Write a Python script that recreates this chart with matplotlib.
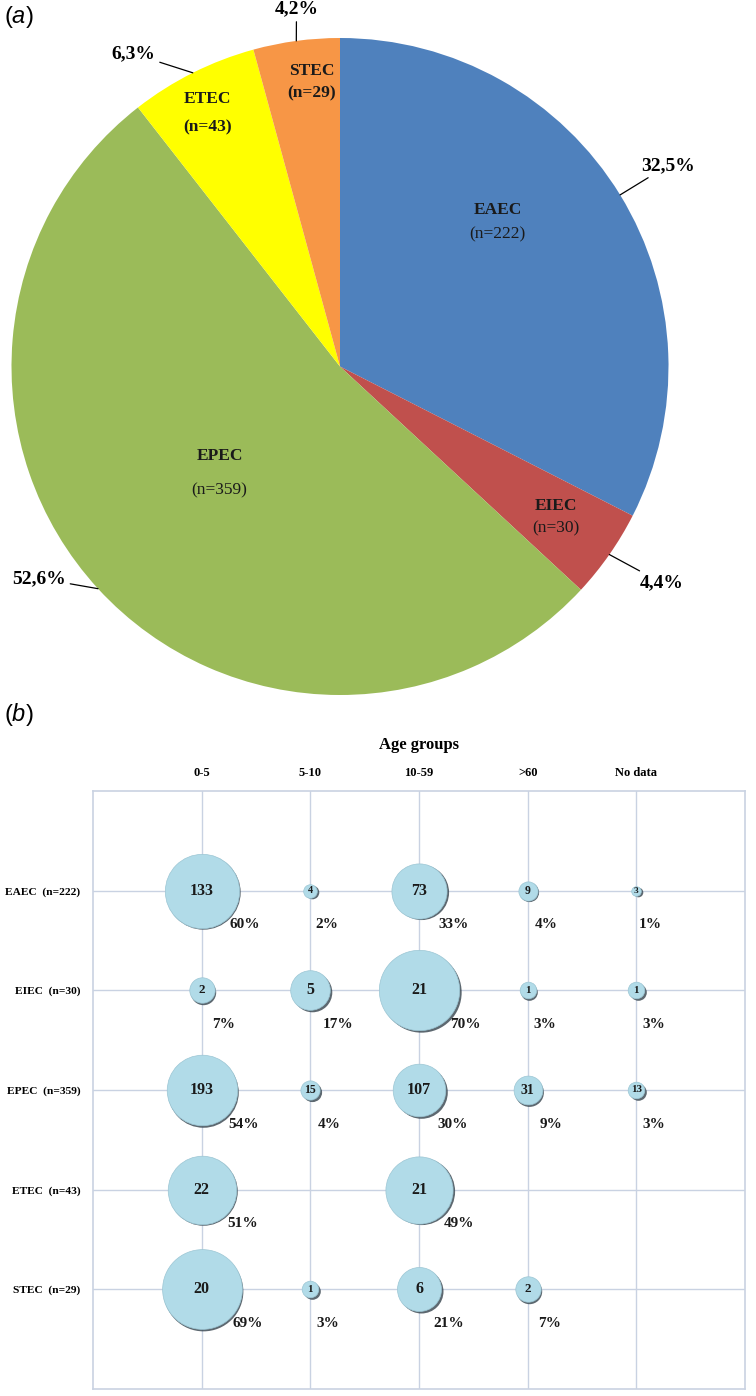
import numpy as np
import matplotlib
matplotlib.use("Agg")
import matplotlib.pyplot as plt
from matplotlib.transforms import offset_copy

plt.rcParams['font.family'] = ['Liberation Serif', 'DejaVu Serif']
plt.rcParams['mathtext.fontset'] = 'custom'
plt.rcParams['mathtext.it'] = 'Liberation Sans:italic'
plt.rcParams['mathtext.rm'] = 'Liberation Sans'

# (a) pathotype counts
pathotypes = ['EAEC', 'EIEC', 'EPEC', 'ETEC', 'STEC']
pathotype_n = [222, 30, 359, 43, 29]
pie_colors = ['#4f81bd', '#c0504d', '#9bbb59', '#ffff00', '#f79646']

# (b) age groups
age_groups = ['0-5', '5-10', '10-59', '>60', 'No data']
row_labels = ['EAEC  (n=222)', 'EIEC  (n=30)', 'EPEC  (n=359)', 'ETEC  (n=43)', 'STEC  (n=29)']
age_counts = [
    [133, 4, 73, 9, 3],
    [2, 5, 21, 1, 1],
    [193, 15, 107, 31, 13],
    [22, None, 21, None, None],
    [20, 1, 6, 2, None],
]
age_pct = [
    [60, 2, 33, 4, 1],
    [7, 17, 70, 3, 3],
    [54, 4, 30, 9, 3],
    [51, None, 49, None, None],
    [69, 3, 21, 7, None],
]

W, H = 756, 1396
fig = plt.figure(figsize=(W / 100, H / 100), dpi=100)

# ---------------- pie ----------------
R = 328.5           # pie radius in px
cx, cy = 340, 366.5  # pie centre in px (from top)
ax = fig.add_axes([0, 1 - 700 / H, 1, 700 / H])
wedges, _ = ax.pie(pathotype_n, colors=pie_colors, startangle=90, counterclock=False,
                   radius=1, wedgeprops=dict(linewidth=0))
ax.set_xlim(-cx / R, (W - cx) / R)
ax.set_ylim(-(700 - cy) / R, cy / R)
ax.set_aspect('auto')
ax.axis('off')

# label placement (radius fraction, angle shift in deg)
name_r = [0.65, 0.80, 0.49, 0.87, 0.87]
name_da = [11, 0, -1, 1, -2]
name_gap = [12, 11, 17, 14, 11]
n_bold = [False, False, False, True, True]
pct_r = [1.17, 1.18, 1.12, 1.14, 1.096]
pct_da = [0, 1, -7.4, 6.8, -0.7]

total = sum(pathotype_n)
for i, w in enumerate(wedges):
    mid = np.deg2rad((w.theta1 + w.theta2) / 2)
    a = mid + np.deg2rad(name_da[i])
    x, y = name_r[i] * np.cos(a), name_r[i] * np.sin(a)
    ax.annotate(pathotypes[i], (x, y), xytext=(0, name_gap[i] * 0.72), textcoords='offset points',
                ha='center', va='center', fontsize=12.5, fontweight='bold', color='#1a1a1a')
    ax.annotate('(n=%d)' % pathotype_n[i], (x, y), xytext=(0, -name_gap[i] * 0.72),
                textcoords='offset points', ha='center', va='center', fontsize=12.5,
                fontweight='bold' if n_bold[i] else 'normal', color='#1a1a1a')
    # outside percentage with leader line
    p = ('%.1f%%' % (100 * pathotype_n[i] / total)).replace('.', ',')
    b = mid + np.deg2rad(pct_da[i])
    ax.annotate(p, xy=(np.cos(mid), np.sin(mid)),
                xytext=(pct_r[i] * np.cos(b), pct_r[i] * np.sin(b)),
                ha='center', va='center', fontsize=14, fontweight='bold',
                arrowprops=dict(arrowstyle='-', color='black', lw=0.9, shrinkA=1, shrinkB=0))

fig.text(4 / W, 1 - 17 / H, r'($\mathit{a}$)', fontsize=17, va='center', ha='left',
         family='Liberation Sans')

# ---------------- bubble chart ----------------
ax2 = fig.add_axes([93 / W, 1 - 1389 / H, (745 - 93) / W, (1389 - 791) / H])
ax2.set_xlim(0, 6)
ax2.set_ylim(6, 0)
grid_c = '#c9d2e2'
for s in ax2.spines.values():
    s.set_color(grid_c)
    s.set_linewidth(1.2)
ax2.set_xticks(range(1, 6))
ax2.set_yticks(range(1, 6))
ax2.xaxis.tick_top()
ax2.set_xticklabels(age_groups, fontsize=9, fontweight='bold')
ax2.set_yticklabels(row_labels, fontsize=8.2, fontweight='bold')
ax2.tick_params(length=0, pad=9)
ax2.grid(True, color=grid_c, lw=1)
ax2.set_axisbelow(True)

shadow_tr = offset_copy(ax2.transData, fig=fig, x=1.8, y=-1.8, units='dots')
for r_i, row in enumerate(age_counts):
    for c_i, cnt in enumerate(row):
        if cnt is None:
            continue
        pct = age_pct[r_i][c_i]
        rad = 4.8 * np.sqrt(pct)           # radius in px
        size = (2 * rad * 0.72) ** 2
        xx, yy = c_i + 1, r_i + 1
        ax2.scatter([xx], [yy], s=size, color='#34424c', alpha=0.8, transform=shadow_tr,
                    linewidths=0, zorder=3)
        ax2.scatter([xx], [yy], s=size, color='#b1dbe8', edgecolors='#9cc6d4',
                    linewidths=0.5, zorder=4)
        fs = min(11.5, max(6.5, 5 + rad * 0.35))
        ax2.text(xx, yy, str(cnt), ha='center', va='center', fontsize=fs,
                 fontweight='bold', color='#1a1a1a', zorder=5)
        ax2.annotate('%d%%' % pct, (xx, yy), xytext=(10 + 0.9 * rad, -34),
                     textcoords='offset pixels', ha='center', va='center',
                     fontsize=11, fontweight='bold', color='#1a1a1a', zorder=5)

fig.text(419 / W, 1 - 745 / H, 'Age groups', ha='center', va='center', fontsize=12,
         fontweight='bold')
fig.text(4 / W, 1 - 715 / H, r'($\mathit{b}$)', fontsize=17, va='center', ha='left',
         family='Liberation Sans')

plt.savefig('out.png', dpi=100)
